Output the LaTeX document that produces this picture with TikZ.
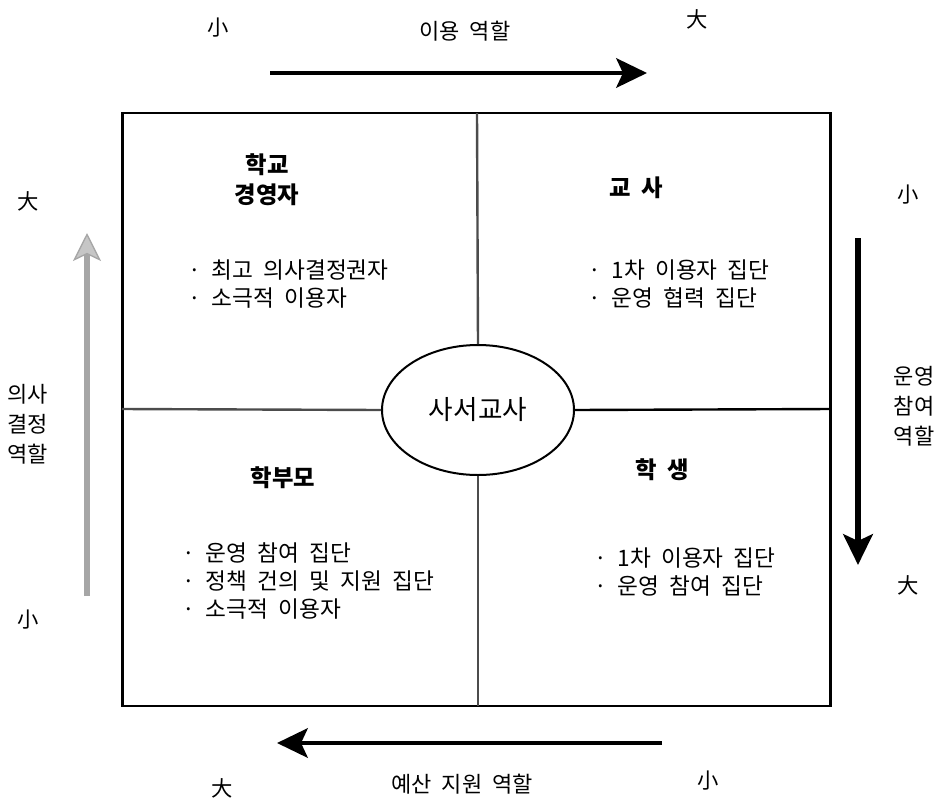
\documentclass[tikz,border=0pt]{standalone}
\usepackage{fontspec}
\setmainfont{Noto Sans CJK KR}[WordSpace=2]
\usetikzlibrary{arrows.meta,shapes.geometric}
\newcommand{\headfont}{\fontsize{17.5}{22.5}\selectfont\bfseries}
\newcommand{\itemfont}{\fontsize{17}{21}\selectfont}

\begin{document}
\begin{tikzpicture}[x=0.75pt,y=-0.75pt,
  roleaxis/.style={line width=3.5pt,-{Stealth[length=23pt,width=22pt,inset=5pt]}},
  hollowaxis/.style={line width=4pt,draw=gray!70,
    -{Stealth[length=21pt,width=21pt,inset=5pt,fill=gray!45,color=gray!70,line width=1pt]}},
  endmark/.style={font=\fontsize{16}{18}\selectfont},
  axislabel/.style={font=\fontsize{16.5}{22.5}\selectfont,align=center},
  head/.style={font=\headfont,align=center},
  items/.style={font=\itemfont,align=left,anchor=north west},
  divider/.style={line width=1.8pt,gray!60!black}]
\useasboundingbox (0,0) rectangle (936,804);
% frame and quarters
\node (frame) [draw,line width=2pt,minimum width=531pt,minimum height=444.75pt,inner sep=0pt] at (476.5,409.5) {};
\node (libr) [draw,ellipse,line width=1.5pt,fill=white,minimum width=144pt,minimum height=97.5pt,inner sep=0pt,font=\fontsize{20}{22}\selectfont] at (478,410) {사서교사};
\coordinate (midW) at (122,409);
\coordinate (midE) at (831,409);
\coordinate (midN) at (477,113);
\coordinate (midS) at (478,706);
\draw[divider] (midN) -- (libr.north);
\draw[divider] (libr.south) -- (midS);
\draw[divider] (midW) -- (libr.west);
\draw[divider,black] (libr.east) -- (midE);
% quarter texts
\node (admin) [head] at (267,180) {학교\\경영자};
\node (adminI) [items] at (184,255) {· 최고 의사결정권자\\· 소극적 이용자};
\node (teach) [head] at (636,188) {교 사};
\node (teachI) [items] at (584,255) {· 1차 이용자 집단\\· 운영 협력 집단};
\node (parent) [head] at (283,478) {학부모};
\node (parentI) [items] at (178,538) {· 운영 참여 집단\\· 정책 건의 및 지원 집단\\· 소극적 이용자};
\node (stud) [head] at (662,470) {학 생};
\node (studI) [items] at (590,543) {· 1차 이용자 집단\\· 운영 참여 집단};
% top axis
\node (useLo) [endmark] at (218,28) {小};
\node (useLbl) [axislabel] at (465,31) {이용 역할};
\node (useHi) [endmark] at (697,19) {大};
\coordinate (useA) at (270,73);
\coordinate (useB) at (647,73);
\draw[roleaxis] (useA) -- (useB);
% bottom axis
\node (budHi) [endmark] at (222,788) {大};
\node (budLbl) [axislabel] at (462,784) {예산 지원 역할};
\node (budLo) [endmark] at (708,781) {小};
\coordinate (budA) at (662,743);
\coordinate (budB) at (277,743);
\draw[roleaxis] (budA) -- (budB);
% left axis
\node (decHi) [endmark] at (28,201) {大};
\node (decLbl) [axislabel] at (28,424) {의사\\결정\\역할};
\node (decLo) [endmark] at (28,620) {小};
\coordinate (decA) at (87,596);
\coordinate (decB) at (87,233);
\draw[hollowaxis] (decA) -- (decB);
% right axis
\node (opLo) [endmark] at (908,195) {小};
\node (opLbl) [axislabel] at (914,406) {운영\\참여\\역할};
\node (opHi) [endmark] at (908,585) {大};
\coordinate (opA) at (858,238);
\coordinate (opB) at (858,565);
\draw[roleaxis,line width=5pt] (opA) -- (opB);
\end{tikzpicture}
\end{document}
